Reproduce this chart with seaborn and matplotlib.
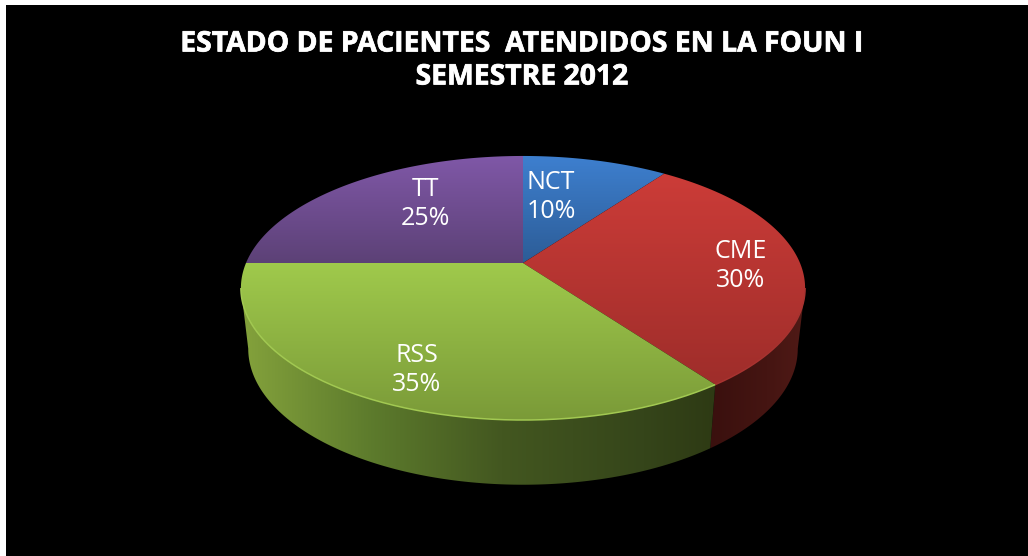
import numpy as np
import matplotlib
matplotlib.use("Agg")
import matplotlib.pyplot as plt
import matplotlib.patheffects as pe
import seaborn as sns
from matplotlib.colors import LinearSegmentedColormap
from matplotlib.patches import Polygon, Rectangle
from matplotlib.path import Path
from matplotlib.transforms import Affine2D, Transform

# ---- data ----
categories = ["NCT", "CME", "RSS", "TT"]
shares = [10, 30, 35, 25]
title_lines = ["ESTADO DE PACIENTES  ATENDIDOS EN LA FOUN I", "SEMESTRE 2012"]

# ---- style ----
top_light = ["#3e80d0", "#cc3c38", "#a0ca4c", "#8058a8"]
top_dark = ["#2c5c96", "#9e2d2a", "#7a9a38", "#5c4176"]
side_stops = {1: [(0, "#3a100e"), (0.6, "#451512"), (1, "#501a16")],
              2: [(0, "#84a23c"), (0.28, "#5c7a2c"), (0.55, "#435720"),
                  (0.85, "#35451a"), (1, "#2e3a14")]}
rim_colors = {1: "#a83330", 2: "#a2c952"}
FONT = ["Open Sans", "DejaVu Sans"]

sns.set_theme(style="white")
W, H = 1028, 556
fig = plt.figure(figsize=(W / 100, H / 100), dpi=100, facecolor="white")
ax = fig.add_axes([0, 0, 1, 1])

CX, CY, A, B, K = 523.0, 263.0, 277.0, 127.3, 0.1893


class Tilt(Transform):
    """Perspective view of the unit pie, in image pixels."""
    input_dims = output_dims = 2
    has_inverse = False

    def __init__(self, cy=CY, sx=1.0, sy=1.0):
        super().__init__()
        self.cy, self.sx, self.sy = cy, sx, sy

    def transform_non_affine(self, values):
        v = np.asarray(values, float)
        d = 1 + K * v[:, 1]
        return np.column_stack([CX + self.sx * A * v[:, 0] / d,
                                self.cy - self.sy * B * v[:, 1] / d])

    def transform_path_non_affine(self, path):
        big = Affine2D().scale(4000).transform_path(path)
        pts = np.vstack(big.to_polygons(closed_only=False)) / 4000
        return Path(self.transform_non_affine(pts), closed=True)


top = Tilt()
low = Tilt(cy=323.0, sx=0.974, sy=1.03)

wedges, _ = ax.pie(shares, startangle=90, counterclock=False, radius=1.0,
                   wedgeprops=dict(linewidth=0))
ax.set_aspect("auto")
ax.set_xlim(0, W)
ax.set_ylim(H, 0)
ax.set_axis_off()

ax.add_patch(Rectangle((6, 5), W - 6, H - 5, facecolor="black", edgecolor="none", zorder=0))

# side wall
th_limit = np.degrees(np.arccos(-K))
ends = np.cumsum([0] + shares) * 3.6
for i in side_stops:
    a0 = max(ends[i], th_limit)
    a1 = min(ends[i + 1], 360 - th_limit)
    th = np.radians(np.linspace(a0, a1, 160))
    unit = np.column_stack([np.sin(th), np.cos(th)])
    rim = top.transform(unit)
    ring = np.vstack([rim, low.transform(unit)[::-1]])
    poly = Polygon(ring, closed=True, facecolor="none", edgecolor="none")
    ax.add_patch(poly)
    cmap = LinearSegmentedColormap.from_list("s", side_stops[i])
    x0, x1 = ring[:, 0].min(), ring[:, 0].max()
    im = ax.imshow(np.linspace(0, 1, 256)[None, :],
                   extent=(x0, x1, ring[:, 1].max(), ring[:, 1].min()), cmap=cmap,
                   aspect="auto", zorder=1, interpolation="bilinear")
    im.set_clip_path(poly)
    ax.plot(rim[:, 0], rim[:, 1], color=rim_colors[i], lw=1.1, zorder=3,
            solid_capstyle="butt")

# top face: each slice has its own vertical gradient
for i, w in enumerate(wedges):
    box = top.transform_path_non_affine(w.get_path()).get_extents()
    w.set_transform(top + ax.transData)
    w.set_facecolor("none")
    w.set_zorder(2)
    cmap = LinearSegmentedColormap.from_list("t", [top_light[i], top_dark[i]])
    im = ax.imshow(np.linspace(0, 1, 256)[:, None],
                   extent=(box.x0 - 2, box.x1 + 2, box.y1 + 1, box.y0 - 1),
                   cmap=cmap, aspect="auto", zorder=2, interpolation="bilinear")
    im.set_clip_path(w)

ax.set_xlim(0, W)
ax.set_ylim(H, 0)

# labels
label_xy = [(551, 197), (741, 266), (417, 370), (425, 204)]
for c, s, (x, y) in zip(categories, shares, label_xy):
    ax.text(x, y, f"{c}\n{s}%", color="white", fontsize=18, ha="center", va="center",
            family=FONT, linespacing=1.22, zorder=5)

bold = [pe.withStroke(linewidth=0.5, foreground="white")]
ax.text(522, 44, title_lines[0], color="white", fontsize=20.4, fontweight="bold",
        ha="center", va="center", family=FONT, zorder=5, path_effects=bold)
ax.text(522, 77, title_lines[1], color="white", fontsize=20.4, fontweight="bold",
        ha="center", va="center", family=FONT, zorder=5, path_effects=bold)

fig.savefig("out.png", dpi=100, facecolor="white")
